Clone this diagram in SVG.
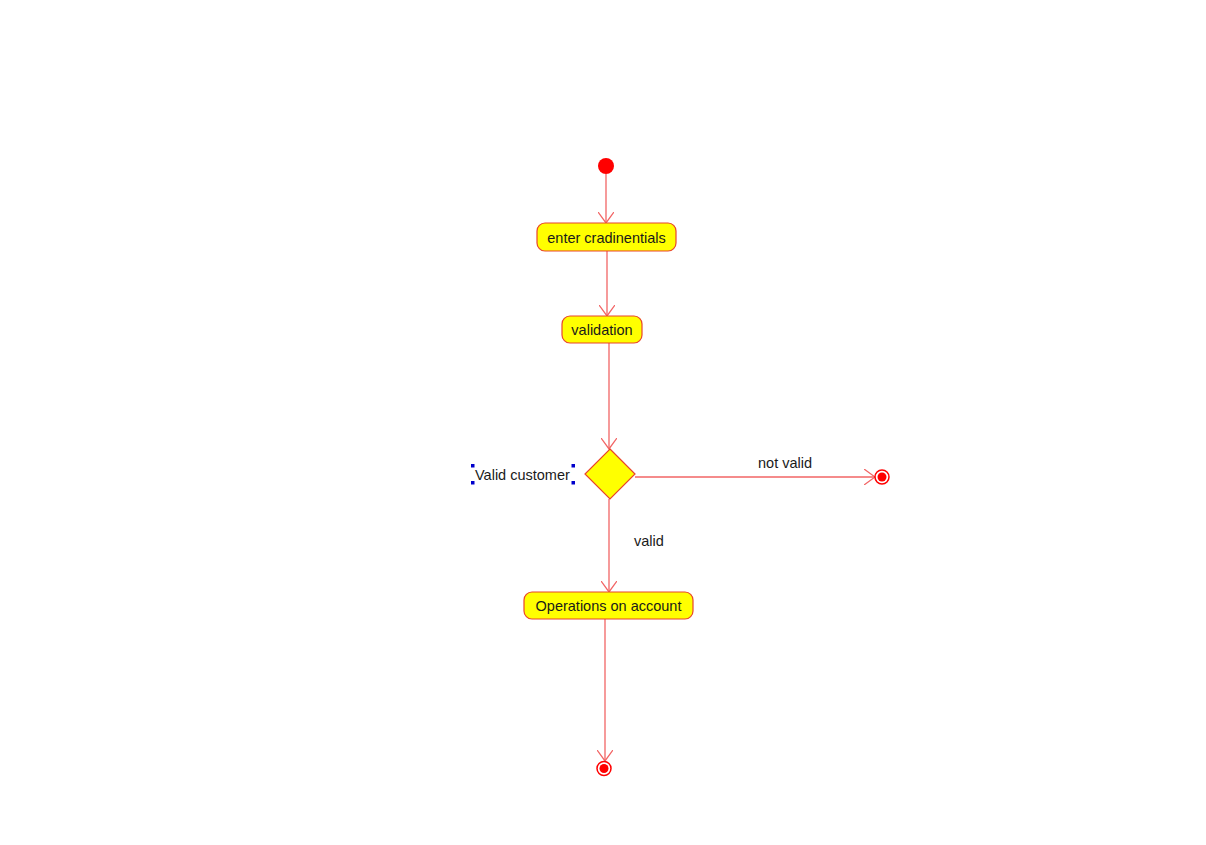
<svg xmlns="http://www.w3.org/2000/svg" width="1206" height="845" viewBox="0 0 1206 845">
<style>
.act{fill:#ffff00;stroke:#e8452c;stroke-width:1.2}
.lbl{font-family:"Liberation Sans",Arial,sans-serif;font-size:14.5px;fill:#1a1a1a}
.edge{stroke:#f26565;stroke-width:1.3;fill:none}
.sel{fill:#0000cc}
</style>
<defs>
<marker id="arr" viewBox="0 0 12 16" refX="11" refY="8" markerWidth="12" markerHeight="16" markerUnits="userSpaceOnUse" orient="auto">
<path d="M0,0 L11,8 L0,16" fill="none" stroke="#f26565" stroke-width="1.3"/>
</marker>
</defs>
<rect width="1206" height="845" fill="#ffffff"/>
<g id="connectors">
<line class="edge" x1="606" y1="174" x2="606" y2="223" marker-end="url(#arr)"/>
<line class="edge" x1="607" y1="251" x2="607" y2="316" marker-end="url(#arr)"/>
<line class="edge" x1="609" y1="343" x2="609" y2="449" marker-end="url(#arr)"/>
<line class="edge" x1="635" y1="477" x2="875" y2="477" marker-end="url(#arr)"/>
<line class="edge" x1="609" y1="499" x2="609" y2="592" marker-end="url(#arr)"/>
<line class="edge" x1="605" y1="619" x2="605" y2="761" marker-end="url(#arr)"/>
<text class="lbl" x="758" y="468">not valid</text>
<text class="lbl" x="634" y="546">valid</text>
</g>
<g id="start">
<circle cx="606" cy="166" r="8" fill="#ff0000"/>
</g>
<g id="enter-cradinentials">
<rect class="act" x="537" y="223" width="139" height="28" rx="8"/>
<text class="lbl" x="606.5" y="242.5" text-anchor="middle">enter cradinentials</text>
</g>
<g id="validation">
<rect class="act" x="562" y="316" width="80" height="27" rx="8"/>
<text class="lbl" x="602" y="334.5" text-anchor="middle">validation</text>
</g>
<g id="decision">
<polygon class="act" points="610,449 635,474 610,499 585,474"/>
<text class="lbl" x="475" y="480">Valid customer</text>
<rect class="sel" x="471" y="464" width="3.5" height="3.5"/>
<rect class="sel" x="471" y="481" width="3.5" height="3.5"/>
<rect class="sel" x="571.5" y="464" width="3.5" height="3.5"/>
<rect class="sel" x="571.5" y="481" width="3.5" height="3.5"/>
</g>
<g id="operations-on-account">
<rect class="act" x="524" y="592" width="169" height="27" rx="8"/>
<text class="lbl" x="608.5" y="610.5" text-anchor="middle">Operations on account</text>
</g>
<g id="final-not-valid">
<circle cx="882" cy="477" r="7" fill="#ffffff" stroke="#ff0000" stroke-width="1.5"/>
<circle cx="882" cy="477" r="4.5" fill="#ff0000"/>
</g>
<g id="final-end">
<circle cx="604" cy="768.5" r="7" fill="#ffffff" stroke="#ff0000" stroke-width="1.5"/>
<circle cx="604" cy="768.5" r="4.5" fill="#ff0000"/>
</g>
</svg>
